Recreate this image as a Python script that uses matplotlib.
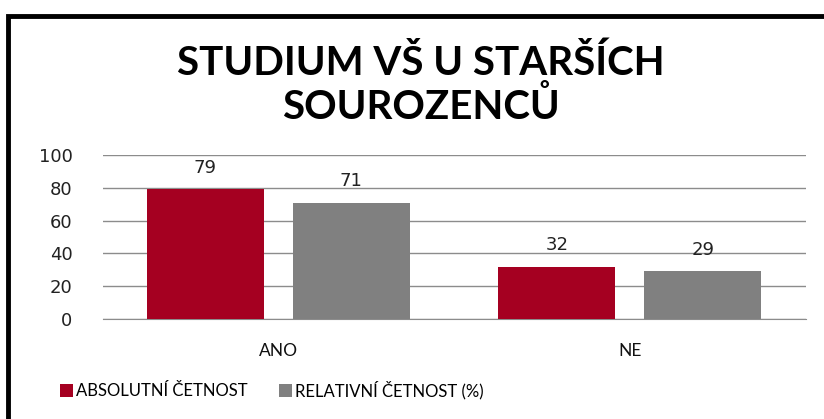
import numpy as np
import matplotlib.pyplot as plt
from matplotlib.patches import Rectangle

# data
categories = ['ANO', 'NE']
absolutni = [79, 32]
relativni = [71, 29]
series_names = ['ABSOLUTNÍ ČETNOST', 'RELATIVNÍ ČETNOST (%)']
colors = ['#A50021', '#808080']

fig = plt.figure(figsize=(8.24, 4.19), dpi=100)
ax = fig.add_axes([103/824, 1 - 319/419, (806-103)/824, (319-155)/419])

x = np.arange(len(categories))
w = 0.333
b1 = ax.bar(x - 0.2085, absolutni, w, color=colors[0], label=series_names[0], zorder=3)
b2 = ax.bar(x + 0.2065, relativni, w, color=colors[1], label=series_names[1], zorder=3)

for bars in (b1, b2):
    for r in bars:
        ax.annotate('%d' % r.get_height(), (r.get_x() + r.get_width()/2, r.get_height()),
                    xytext=(0, 9), textcoords='offset points', ha='center', va='bottom',
                    fontsize=13, family='DejaVu Sans', color='#222222')

ax.set_xlim(-0.5, 1.5)
ax.set_ylim(0, 100)
ax.set_yticks(range(0, 101, 20))
ax.yaxis.grid(True, color='#8c8c8c', lw=1)
ax.set_axisbelow(True)
for s in ['top', 'right', 'left']:
    ax.spines[s].set_visible(False)
ax.spines['bottom'].set_color('#8c8c8c')
ax.tick_params(axis='both', length=0)
ax.tick_params(axis='y', labelsize=13, pad=22, labelcolor='#222222')
ax.set_xticks(x)
ax.set_xticklabels(categories, fontsize=12.5, family='Lato', color='#111111')
ax.tick_params(axis='x', pad=17)

fig.text(421/824, 1 - 75/419, 'STUDIUM VŠ U STARŠÍCH', ha='center', va='baseline',
         fontsize=29, fontweight='bold', family='Lato')
fig.text(421/824, 1 - 119/419, 'SOUROZENCŮ', ha='center', va='baseline',
         fontsize=29, fontweight='bold', family='Lato')

leg = fig.legend(loc='center', bbox_to_anchor=(272/824, 1 - 390/419), ncol=2, frameon=False,
                 prop={'family': 'Lato', 'size': 12}, handlelength=0.75,
                 handleheight=0.75, handletextpad=0.2, columnspacing=1.9)

# black frame (chart border, clipped on right/bottom)
fig.patches.append(Rectangle((8/824, -0.05), 1.1, 1 - 16/419 + 0.05, transform=fig.transFigure,
                             fill=False, edgecolor='black', lw=3.5))

fig.savefig('out.png', dpi=100)
